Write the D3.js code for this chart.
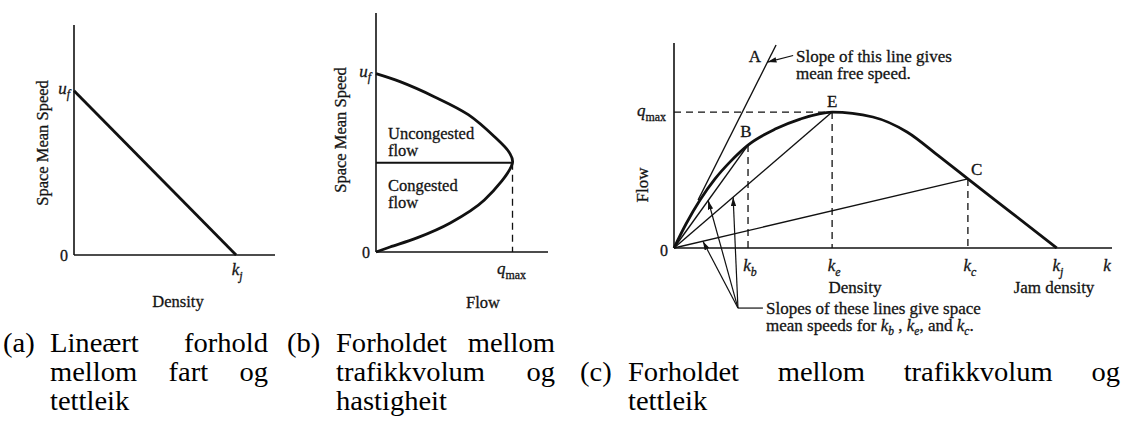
<!DOCTYPE html>
<html>
<head>
<meta charset="utf-8">
<script src="https://cdn.jsdelivr.net/npm/d3@7"></script>
<style>
  body { margin: 0; background: #fff; }
  svg { display: block; }
  text { font-family: "Liberation Serif", "Times New Roman", serif; fill: #141414; }
  .fig text { stroke: #141414; stroke-width: 0.3px; }
  .cap { font-family: "Liberation Serif", serif; fill: #000; }
</style>
</head>
<body>
<svg id="fig" width="1125" height="432"></svg>
<script>
// ---------- Panel (a): linear speed–density relation (u_f = 100, k_j = 100) ----------
const aDensity = [0, 100];
const aSpeed = [100, 0];

// ---------- Panel (b): speed–flow relation (q_max = 100, u_f = 100) ----------
const bFlow  = [0, 17.6, 42.6, 67.6, 86.8, 97.8, 100, 79.4, 54.4, 30, 10.3, 0];
const bSpeed = [100, 95.5, 87.1, 77, 64.6, 55.6, 50, 29.2, 16.3, 7.9, 2.8, 0];
const bQmax = 100;
const bSpeedAtQmax = 50;

// ---------- Panel (c): flow–density relation ----------
const cDensity = [0, 2.74, 5.94, 9.36, 12.8, 16.9, 23.1, 28.8, 36.1, 45.4, 53.2, 60.7, 67.1, 77.3, 87.4];
const cFlow    = [0, 11.7, 23.4, 33.7, 42.0, 50.2, 58.0, 62.9, 66.3, 63.9, 56.6, 44.4, 33.7, 16.8, 0];
const pointNames = ["B", "E", "C"];
const pointDensity = [16.9, 36.1, 67.1];   // k_b, k_e, k_c
const pointFlow    = [50.2, 66.3, 33.7];
const kJam = 87.4;
const qMax = 66.3;
// free-speed tangent line "A"
const freeLineDensity = [5.5, 23.3];
const freeLineFlow    = [23.4, 99];
// arrow tips along the rays O-B, O-E, O-C
const arrowTipDensity = [7.8, 13.5, 6.6];

// ---------- Captions ----------
const captionLabels = ["(a)", "(b)", "(c)"];
const captionLines = [
  ["Lineært forhold", "mellom fart og", "tettleik"],
  ["Forholdet mellom", "trafikkvolum og", "hastigheit"],
  ["Forholdet mellom trafikkvolum og", "tettleik"]
];

const svg = d3.select("#fig");
svg.append("rect").attr("width", 1125).attr("height", 432).attr("fill", "#fff");

const defs = svg.append("defs");
defs.append("marker")
  .attr("id", "arrow")
  .attr("viewBox", "0 0 10 6")
  .attr("refX", 10).attr("refY", 3)
  .attr("markerWidth", 9).attr("markerHeight", 5.5)
  .attr("markerUnits", "userSpaceOnUse")
  .attr("orient", "auto")
  .append("path").attr("d", "M0,0 L10,3 L0,6 Z").attr("fill", "#111");

const INK = "#111";
const fig = svg.append("g").attr("class", "fig");

function axes(g, x, y) {
  const [x0, x1] = x.range();
  const [y0, y1] = y.range();
  g.append("line").attr("x1", x0).attr("x2", x0).attr("y1", y0).attr("y2", y1)
    .attr("stroke", INK).attr("stroke-width", 1.6);
  g.append("line").attr("x1", x0).attr("x2", x1).attr("y1", y0).attr("y2", y0)
    .attr("stroke", INK).attr("stroke-width", 1.6);
}

// italic symbol with a subscript
function sym(g, x, y, base, sub, anchor, size, subItalic = true) {
  const t = g.append("text").attr("x", x).attr("y", y)
    .attr("text-anchor", anchor || "middle").attr("font-size", size);
  t.append("tspan").attr("font-style", "italic").text(base);
  t.append("tspan").attr("font-style", subItalic ? "italic" : "normal")
    .attr("font-size", size * 0.7).attr("dy", size * 0.28).text(sub);
  return t;
}

function label(g, x, y, s, size, anchor, rot) {
  const t = g.append("text").attr("font-size", size).attr("text-anchor", anchor || "middle").text(s);
  if (rot) t.attr("transform", `translate(${x},${y}) rotate(-90)`);
  else t.attr("x", x).attr("y", y);
  return t;
}

// ================= Panel (a) =================
{
  const g = fig.append("g");
  const x = d3.scaleLinear().domain([0, 124]).range([74, 275]);
  const y = d3.scaleLinear().domain([0, 140]).range([255, 25]);
  axes(g, x, y);
  const line = d3.line().x((d, i) => x(aDensity[i])).y((d, i) => y(aSpeed[i]));
  g.append("path").attr("d", line(aDensity)).attr("fill", "none")
    .attr("stroke", INK).attr("stroke-width", 2.8);
  sym(g, x(0) - 4, y(aSpeed[0]) + 3, "u", "f", "end", 17);
  label(g, x(0) - 6, y(0) + 6, "0", 16, "end");
  sym(g, x(aDensity[1]) + 1, y(0) + 20, "k", "j", "middle", 17);
  label(g, 178, 307, "Density", 16.5);
  label(g, 48, 143, "Space Mean Speed", 16.5, "middle", true);
}

// ================= Panel (b) =================
{
  const g = fig.append("g");
  const x = d3.scaleLinear().domain([0, 126]).range([376, 548]);
  const y = d3.scaleLinear().domain([0, 134]).range([252, 13]);
  axes(g, x, y);
  // dashed drop from the critical point
  g.append("line").attr("x1", x(bQmax)).attr("x2", x(bQmax))
    .attr("y1", y(bSpeedAtQmax)).attr("y2", y(0))
    .attr("stroke", INK).attr("stroke-width", 1.3).attr("stroke-dasharray", "7,5");
  // boundary between uncongested and congested
  g.append("line").attr("x1", x(0)).attr("x2", x(bQmax))
    .attr("y1", y(bSpeedAtQmax)).attr("y2", y(bSpeedAtQmax))
    .attr("stroke", INK).attr("stroke-width", 1.9);
  const curve = d3.line().curve(d3.curveCatmullRom.alpha(0.5))
    .x((d, i) => x(bFlow[i])).y((d, i) => y(bSpeed[i]));
  g.append("path").attr("d", curve(bFlow)).attr("fill", "none")
    .attr("stroke", INK).attr("stroke-width", 2.8);
  sym(g, x(0) - 5, y(100) + 3, "u", "f", "end", 17);
  label(g, x(0) - 6, y(0) + 6, "0", 16, "end");
  sym(g, x(bQmax) - 1, y(0) + 22, "q", "max", "middle", 17, false);
  label(g, 483, 308, "Flow", 16.5);
  label(g, 346, 130, "Space Mean Speed", 16.5, "middle", true);
  label(g, 388, 139, "Uncongested", 16.5, "start");
  label(g, 388, 156, "flow", 16.5, "start");
  label(g, 388, 191, "Congested", 16.5, "start");
  label(g, 388, 208, "flow", 16.5, "start");
}

// ================= Panel (c) =================
{
  const g = fig.append("g");
  const x = d3.scaleLinear().domain([0, 100]).range([674, 1112]);
  const y = d3.scaleLinear().domain([0, 100]).range([248, 43]);
  axes(g, x, y);
  const dash = "7,5";
  // q_max guide
  g.append("line").attr("x1", x(0)).attr("x2", x(pointDensity[1]))
    .attr("y1", y(qMax)).attr("y2", y(qMax))
    .attr("stroke", INK).attr("stroke-width", 1.3).attr("stroke-dasharray", dash);
  // vertical guides at k_b, k_e, k_c
  pointDensity.forEach((k, i) => {
    g.append("line").attr("x1", x(k)).attr("x2", x(k))
      .attr("y1", y(pointFlow[i])).attr("y2", y(0))
      .attr("stroke", INK).attr("stroke-width", 1.3).attr("stroke-dasharray", dash);
  });
  // rays from origin
  pointDensity.forEach((k, i) => {
    g.append("line").attr("x1", x(0)).attr("y1", y(0))
      .attr("x2", x(k)).attr("y2", y(pointFlow[i]))
      .attr("stroke", INK).attr("stroke-width", 1.4);
  });
  // free-speed line A
  g.append("line").attr("x1", x(freeLineDensity[0])).attr("y1", y(freeLineFlow[0]))
    .attr("x2", x(freeLineDensity[1])).attr("y2", y(freeLineFlow[1]))
    .attr("stroke", INK).attr("stroke-width", 1.4);
  // flow–density curve
  const curve = d3.line().curve(d3.curveMonotoneX)
    .x((d, i) => x(cDensity[i])).y((d, i) => y(cFlow[i]));
  g.append("path").attr("d", curve(cDensity)).attr("fill", "none")
    .attr("stroke", INK).attr("stroke-width", 2.8);

  // leader for line A
  const slopeA = freeLineFlow[1] / freeLineDensity[1];
  const tipQ = 90.7, tipK = tipQ / slopeA;
  g.append("line").attr("x1", x(27.2)).attr("y1", y(93.9))
    .attr("x2", x(tipK)).attr("y2", y(tipQ))
    .attr("stroke", INK).attr("stroke-width", 1.2).attr("marker-end", "url(#arrow)");
  label(g, 755, 62, "A", 17);
  label(g, 796, 62, "Slope of this line gives", 17, "start");
  label(g, 796, 79, "mean free speed.", 17, "start");

  // arrows to the rays
  const hubK = 14.6, hubQ = -29.3;
  arrowTipDensity.forEach((k, i) => {
    const q = k * pointFlow[i] / pointDensity[i];
    g.append("line").attr("x1", x(hubK)).attr("y1", y(hubQ))
      .attr("x2", x(k)).attr("y2", y(q))
      .attr("stroke", INK).attr("stroke-width", 1.2).attr("marker-end", "url(#arrow)");
  });
  g.append("line").attr("x1", x(hubK)).attr("y1", y(hubQ))
    .attr("x2", x(20.3)).attr("y2", y(hubQ))
    .attr("stroke", INK).attr("stroke-width", 1.2);
  label(g, 766, 314, "Slopes of these lines give space", 17, "start");
  const t = g.append("text").attr("x", 766).attr("y", 331).attr("font-size", 17);
  t.append("tspan").text("mean speeds for  ");
  const subs = [["k", "b", " ,  "], ["k", "e", ", and  "], ["k", "c", "."]];
  subs.forEach(([b, s, tail]) => {
    t.append("tspan").attr("font-style", "italic").text(b);
    t.append("tspan").attr("font-style", "italic").attr("font-size", 11.5).attr("dy", 4).text(s);
    t.append("tspan").attr("dy", -4).text(tail);
  });

  // point labels
  label(g, x(pointDensity[0]) - 2, y(pointFlow[0]) - 8, pointNames[0], 17);
  label(g, x(pointDensity[1]), y(qMax) - 5, pointNames[1], 17);
  label(g, x(pointDensity[2]) + 3, y(pointFlow[2]) - 4, pointNames[2], 17, "start");

  // axis labels
  label(g, x(0) - 6, y(0) + 8, "0", 16, "end");
  sym(g, x(0) - 8, y(qMax) + 4, "q", "max", "end", 17, false);
  label(g, 648, 185, "Flow", 17, "middle", true);
  ["b", "e", "c"].forEach((s, i) => sym(g, x(pointDensity[i]) + 2, 271, "k", s, "middle", 17));
  sym(g, x(kJam) + 1, 271, "k", "j", "middle", 17);
  g.append("text").attr("x", 1107).attr("y", 271).attr("font-size", 17)
    .attr("text-anchor", "middle").attr("font-style", "italic").text("k");
  label(g, 855, 293, "Density", 17);
  label(g, 1054, 293, "Jam density", 17);
}

// ================= Captions (justified, hanging indent) =================
const capFont = 28;
const capStretch = 1.02;
const capBase = [352, 381, 410];
const capLayout = [
  { label: 3,   indent: 50,  right: 268,  row: 0 },
  { label: 287, indent: 336, right: 555,  row: 0 },
  { label: 580, indent: 628, right: 1120, row: 1 }
];
const capG = svg.append("g");
function capWord(s) {
  const n = capG.append("text").attr("class", "cap").attr("font-size", capFont).text(s);
  const w = n.node().getComputedTextLength() * capStretch;
  return { n, w };
}
function putWord(o, px, py) {
  o.n.attr("transform", `translate(${px},${py}) scale(${capStretch},1)`);
}
capLayout.forEach((c, ci) => {
  putWord(capWord(captionLabels[ci]), c.label, capBase[c.row]);
  const lines = captionLines[ci];
  lines.forEach((ln, li) => {
    const yy = capBase[c.row + li];
    const words = ln.split(" ").map(capWord);
    const last = li === lines.length - 1;
    let gap = capFont * 0.35;
    if (!last && words.length > 1) {
      gap = (c.right - c.indent - d3.sum(words, o => o.w)) / (words.length - 1);
    }
    let xx = c.indent;
    words.forEach(o => { putWord(o, xx, yy); xx += o.w + gap; });
  });
});
</script>
</body>
</html>
